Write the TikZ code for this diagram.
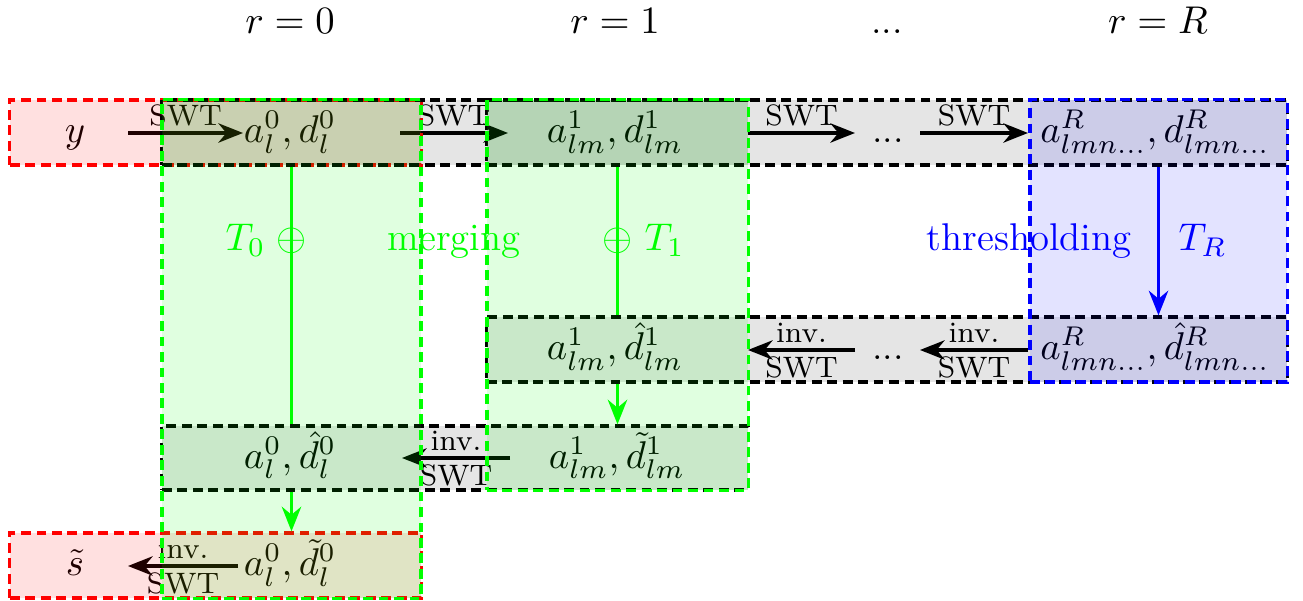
\RequirePackage{fix-cm}
\documentclass[tikz,border=0pt]{standalone}
\usetikzlibrary{arrows.meta}
\begin{document}
\begin{tikzpicture}[x=0.01cm,y=-0.01cm,
  every node/.style={font=\fontsize{11}{13}\selectfont},
  txt/.style={anchor=base},
  lbl/.style={font=\fontsize{8.4}{10}\selectfont, inner sep=1.5pt},
  dsh/.style={line width=0.9pt, dash pattern=on 2.8pt off 1.6pt},
  arr/.style={line width=1pt, -{Stealth[length=7pt,width=5.5pt]}},
  boxbase/.style={rectangle, inner sep=0pt, dsh, draw opacity=1},
  graybox/.style={boxbase, draw=black, fill=black, fill opacity=0.1},
  redbox/.style={boxbase, draw=red, fill=red, fill opacity=0.12},
  greenbox/.style={boxbase, draw=green, fill=green, fill opacity=0.12},
  bluebox/.style={boxbase, draw=blue, fill=blue, fill opacity=0.11},
  gline/.style={green, line width=0.85pt},
  bline/.style={blue, line width=0.85pt},
]
\useasboundingbox (0,0) rectangle (1303,601);

% titles
\node[txt] (t0) at (290,34) {$r=0$};
\node[txt] (t1) at (615,34) {$r=1$};
\node[txt] (td) at (887,34) {...};
\node[txt] (tR) at (1158,34) {$r=R$};

% top row
\node[txt] (y)  at (75,143)   {$y$};
\node[txt] (a0) at (290,143)  {$a_l^0, d_l^0$};
\node[txt] (a1) at (615,143)  {$a_{lm}^1, d_{lm}^1$};
\node[txt] (dt) at (888,143)  {...};
\node[txt] (aR) at (1155,143) {$a^R_{lmn...}, d^R_{lmn...}$};

% second row
\node[txt] (a1h) at (615,360)  {$a_{lm}^1, \hat{d}_{lm}^1$};
\node[txt] (dth) at (888,360)  {...};
\node[txt] (aRh) at (1155,360) {$a^R_{lmn...}, \hat{d}^R_{lmn...}$};

% third row
\node[txt] (a0h) at (290,468.5) {$a_l^0, \hat{d}_l^0$};
\node[txt] (a1t) at (617,468.5) {$a_{lm}^1, \tilde{d}_{lm}^1$};

% bottom row
\node[txt] (st)  at (75,576)  {$\tilde{s}$};
\node[txt] (a0t) at (290,576) {$a_l^0, \tilde{d}_l^0$};

% horizontal arrows
\draw[arr] ([shift={(53,-10)}]y.base) -- node[lbl,above] (l1) {SWT} ([shift={(-47,-10)}]a0.base);
\draw[arr] ([shift={(110,-10)}]a0.base) -- node[lbl,above] (l2) {SWT} ([shift={(-107,-10)}]a1.base);
\draw[arr] ([shift={(133,-10)}]a1.base) -- node[lbl,above] (l3) {SWT} ([shift={(-33,-10)}]dt.base);
\draw[arr] ([shift={(32,-10)}]dt.base) -- node[lbl,above] (l4) {SWT} ([shift={(-127,-10)}]aR.base);

\draw[arr] ([shift={(-127,-10)}]aRh.base) -- node[lbl,above] (l5a) {inv.} node[lbl,below] (l5b) {SWT} ([shift={(32,-10)}]dth.base);
\draw[arr] ([shift={(-33,-10)}]dth.base) -- node[lbl,above] (l6a) {inv.} node[lbl,below] (l6b) {SWT} ([shift={(133,-10)}]a1h.base);

\draw[arr] ([shift={(-107,-10.5)}]a1t.base) -- node[lbl,above] (l7a) {inv.} node[lbl,below] (l7b) {SWT} ([shift={(112,-10.5)}]a0h.base);

\draw[arr] ([shift={(-52,-10)}]a0t.base) -- node[lbl,above] (l8a) {inv.} node[lbl,below] (l8b) {SWT} ([shift={(53,-10)}]st.base);

% side labels
\node[txt, green] (merg) at (454,251) {merging};
\node[txt, blue] (thr) at (1029,251) {thresholding};

% boxes (drawn over the text, translucent)
\node[redbox, minimum width=4.11cm, minimum height=0.65cm] (redtop) at (215.5,132.5) {};
\node[redbox, minimum width=4.11cm, minimum height=0.65cm] (redbot) at (215.5,565.5) {};
\node[graybox, minimum width=5.86cm, minimum height=0.65cm] (grayA) at (455,132.5) {};
\node[graybox, minimum width=8.00cm, minimum height=0.65cm] (grayB) at (887,132.5) {};
\node[graybox, minimum width=8.00cm, minimum height=0.65cm] (gray2) at (887,349.5) {};
\node[graybox, minimum width=5.86cm, minimum height=0.64cm] (gray3) at (455,458) {};
\node[greenbox, minimum width=2.59cm, minimum height=4.98cm] (col0) at (291.5,349) {};
\node[greenbox, minimum width=2.61cm, minimum height=3.90cm] (col1) at (617.5,295) {};
\node[bluebox, minimum width=2.57cm, minimum height=2.82cm] (colR) at (1158.5,241) {};

% vertical connectors
\draw[gline] (col0.center |- grayA.south) -- (col0.center |- gray3.north);
\draw[gline, arr] (col0.center |- gray3.south) -- (col0.center |- redbot.north);
\draw[gline] (col1.center |- grayB.south) -- (col1.center |- gray2.north);
\draw[gline, arr] (col1.center |- gray2.south) -- (col1.center |- gray3.north);
\draw[bline, arr] (colR.center |- grayB.south) -- (colR.center |- gray2.north);

\node[txt, green, inner sep=0pt] (op0) at (291.5,251) {$\oplus$};
\node[anchor=base east, green, inner sep=0pt] (T0) at (266,251) {$T_0$};
\node[txt, green, inner sep=0pt] (op1) at (617.5,251) {$\oplus$};
\node[anchor=base west, green, inner sep=0pt] (T1) at (644,251) {$T_1$};
\node[anchor=base west, blue, inner sep=0pt] (TR) at (1178,251) {$T_R$};
\end{tikzpicture}
\end{document}
